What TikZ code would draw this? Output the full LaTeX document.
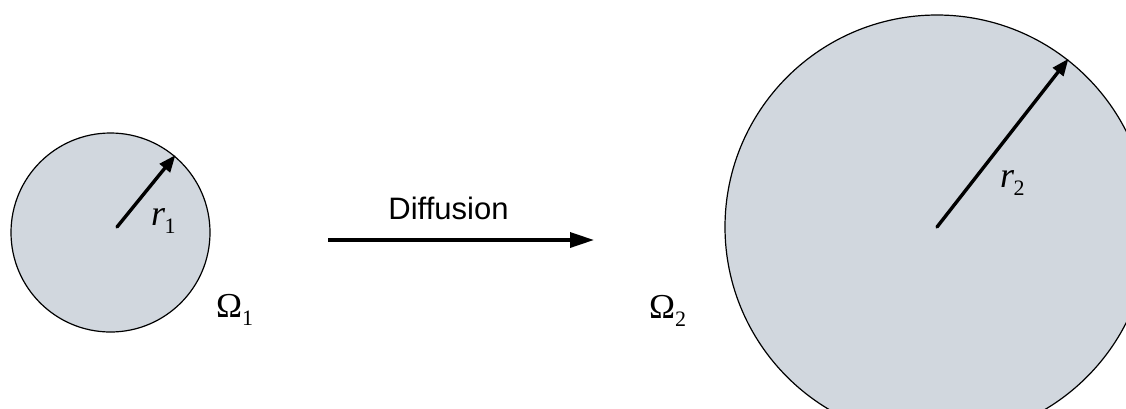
\documentclass[tikz,border=0pt]{standalone}
\usepackage{fontspec}
\setmainfont{Liberation Serif}
\newfontfamily\arialf{Liberation Sans}
\usetikzlibrary{arrows.meta}
\definecolor{diskfill}{RGB}{209,215,222}
\begin{document}
\begin{tikzpicture}[x=1pt,y=-1pt,
  disk/.style={circle,draw=black,line width=1.2pt,fill=diskfill,inner sep=0pt},
  radarrow/.style={line width=3.4pt,line cap=round,-{Triangle[length=17pt,width=13pt]},shorten >=-1pt},
  flowarrow/.style={line width=3.4pt,-{Triangle[length=24pt,width=15pt]}},
  mlabel/.style={inner sep=0pt,anchor=base west}]
\clip (0,0) rectangle (1126,408);
% small disk
\node[disk,minimum size=199pt] (c1) at (110.5,232.5) {};
\coordinate (o1) at (117,227);
\draw[radarrow] (o1) -- (c1.50.4);
\node[mlabel] (r1) at (151,225) {\fontsize{36}{36}\selectfont\itshape r\kern-0.5pt\lower8pt\hbox{\upshape\fontsize{22}{22}\selectfont 1}};
\node[mlabel] (om1) at (216,317) {\fontsize{35}{35}\selectfont Ω\lower8pt\hbox{\fontsize{22}{22}\selectfont 1}};
% diffusion arrow
\coordinate (a1) at (328,240);
\coordinate (a2) at (594,240);
\draw[flowarrow] (a1) -- (a2);
\node[inner sep=0pt] (diff) at (448.5,208) {\arialf\fontsize{31}{31}\selectfont Diffusion};
% large disk
\node[disk,minimum size=424pt] (c2) at (937,227) {};
\coordinate (o2) at (937,227);
\draw[radarrow] (o2) -- (c2.52.8);
\node[mlabel] (r2) at (1000,187) {\fontsize{36}{36}\selectfont\itshape r\kern-0.5pt\lower8pt\hbox{\upshape\fontsize{22}{22}\selectfont 2}};
\node[mlabel] (om2) at (649,318) {\fontsize{35}{35}\selectfont Ω\lower8pt\hbox{\fontsize{22}{22}\selectfont 2}};
\end{tikzpicture}
\end{document}
